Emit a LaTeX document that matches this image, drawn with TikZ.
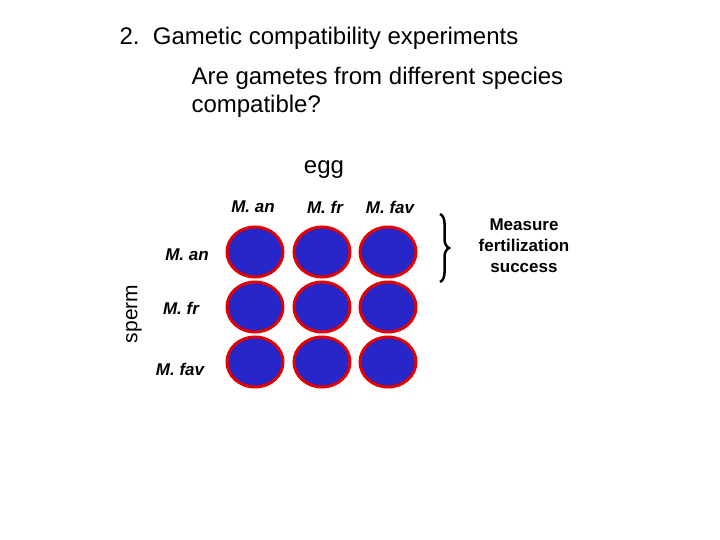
\documentclass[tikz,border=0pt]{standalone}
\usepackage{fontspec}
\setmainfont{Liberation Sans}
\usetikzlibrary{decorations.pathreplacing,shapes.geometric}
\begin{document}
\begin{tikzpicture}[x=1pt,y=-1pt,
    gamete/.style={ellipse,draw=red!90!black,line width=3pt,fill=blue!75!black!85,minimum width=56pt,minimum height=50pt,inner sep=0pt},
    species/.style={font=\fontsize{17}{19}\selectfont\bfseries\itshape},
    heading/.style={font=\fontsize{24}{28}\selectfont,anchor=west}]
\useasboundingbox (0,0) rectangle (720,540);

% Titles
\node[heading] (title) at (116,38) {2.\ \ Gametic compatibility experiments};
\node[heading,align=left,anchor=north west] (question) at (188,64) {Are gametes from different species\\compatible?};
\node[font=\fontsize{24}{28}\selectfont] (egg) at (324,170) {egg};
\node[font=\fontsize{21}{24}\selectfont,rotate=90] (sperm) at (134,314) {sperm};

% Column and row labels
\node[species] (c1) at (253,207) {M. an};
\node[species] (c2) at (325,207) {M. fr};
\node[species] (c3) at (390,207) {M. fav};
\node[species] (r1) at (187,255) {M. an};
\node[species] (r2) at (181,308) {M. fr};
\node[species] (r3) at (180,369) {M. fav};

% Gametes
\foreach \i/\y in {1/252,2/307,3/362}
  \foreach \j/\x in {1/255,2/322,3/388}
    \node[gamete] (g\i\j) at (\x,\y) {};

% Brace
\coordinate (btop) at (440,214);
\coordinate (bbot) at (440,282);
\draw[line width=2.5pt,decorate,decoration={brace,amplitude=9pt}] (btop) -- (bbot);
\node[font=\fontsize{17}{21}\selectfont\bfseries,align=center] (measure) at (524,246) {Measure\\fertilization\\success};
\end{tikzpicture}
\end{document}
